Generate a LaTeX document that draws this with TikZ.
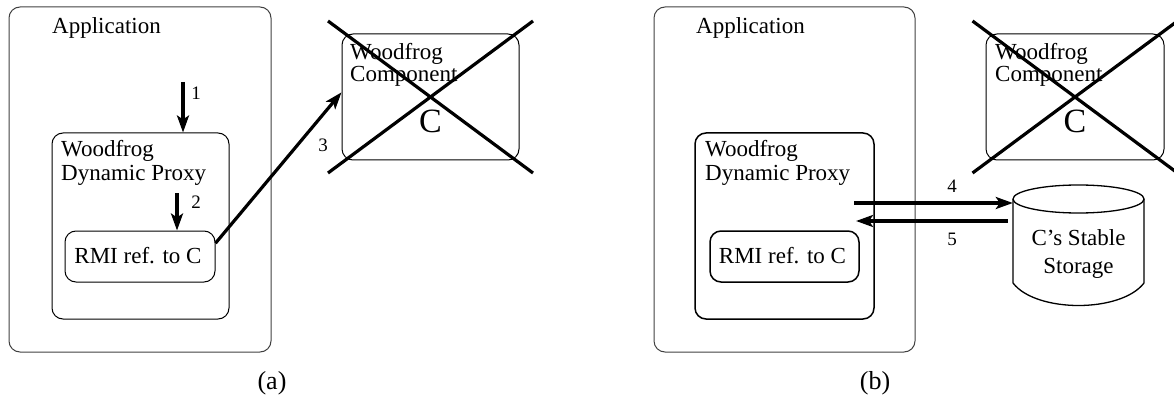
\documentclass[tikz,border=0pt]{standalone}
\usepackage{fontspec}
\setmainfont{Liberation Serif}
\usetikzlibrary{arrows.meta}
\tikzset{
  every node/.style={font=\fontsize{23}{23}\selectfont, inner sep=0pt},
  box/.style={draw, rounded corners=11pt, line width=1pt},
  outerbox/.style={box, draw=black!75},
  boldbox/.style={box, line width=1.5pt},
  numlbl/.style={font=\fontsize{19}{19}\selectfont, anchor=base},
  caption/.style={font=\fontsize{26}{26}\selectfont, anchor=base},
  bigc/.style={font=\fontsize{34}{34}\selectfont, anchor=base},
  arr/.style={line width=3.2pt, -{Stealth[length=17pt, width=12pt, inset=4pt]}},
  cross/.style={line width=3.2pt},
  txt/.style={anchor=base west},
}
\begin{document}
\begin{tikzpicture}[x=1pt, y=-1pt]
\useasboundingbox (0,0) rectangle (1174,398);
\clip (0,0) rectangle (1174,398);

% ---------------- (a) ----------------
\node[outerbox, minimum width=262pt, minimum height=345pt] (appA) at (140,179.5) {};
\node[txt] (appAt) at (52,34) {Application};

\node[box, minimum width=177pt, minimum height=186pt] (proxyA) at (140.5,226) {};
\node[txt] (proxyAt1) at (61,157) {Woodfrog};
\node[txt] (proxyAt2) at (61,180) {Dynamic Proxy};

\node[box, minimum width=150pt, minimum height=51pt] (rmiA) at (140,256.5) {};
\node[anchor=base] (rmiAt) at (138,263) {RMI ref. to C};

\node[box, minimum width=177pt, minimum height=126pt] (compA) at (430.5,97) {};
\node[txt] (compAt1) at (350,60) {Woodfrog};
\node[txt] (compAt2) at (350,82) {Component};
\node[bigc] (compAc) at (430.5,133) {C};
\draw[cross] ([shift={(-102.5,-76)}]compA.center) -- ([shift={(102.5,76)}]compA.center);
\draw[cross] ([shift={(-102.5,76)}]compA.center) -- ([shift={(102.5,-76)}]compA.center);

\coordinate (a1s) at (183,82);
\draw[arr] (a1s) -- (a1s |- proxyA.north);
\node[numlbl] (n1) at (196,100) {1};

\coordinate (a2s) at (177,193);
\draw[arr] (a2s) -- (a2s |- rmiA.north);
\node[numlbl] (n2) at (196,208) {2};

\draw[arr] (rmiA.10) -- (compA.177);
\node[numlbl] (n3) at (323,152) {3};

\node[caption] (capA) at (272,389) {(a)};

% ---------------- (b) ----------------
\node[outerbox, minimum width=261pt, minimum height=345pt] (appB) at (784.5,179.5) {};
\node[txt] (appBt) at (696,34) {Application};

\node[boldbox, minimum width=179pt, minimum height=186pt] (proxyB) at (784.5,226) {};
\node[txt] (proxyBt1) at (705,157) {Woodfrog};
\node[txt] (proxyBt2) at (705,180) {Dynamic Proxy};

\node[boldbox, minimum width=149pt, minimum height=51pt] (rmiB) at (784.5,256.5) {};
\node[anchor=base] (rmiBt) at (782.5,263) {RMI ref. to C};

\node[box, minimum width=178pt, minimum height=126pt] (compB) at (1075,97) {};
\node[txt] (compBt1) at (995,60) {Woodfrog};
\node[txt] (compBt2) at (995,82) {Component};
\node[bigc] (compBc) at (1075,133) {C};
\draw[cross] ([shift={(-102.5,-76)}]compB.center) -- ([shift={(102.5,76)}]compB.center);
\draw[cross] ([shift={(-102.5,76)}]compB.center) -- ([shift={(102.5,-76)}]compB.center);

% stable storage drum
\node[minimum width=131pt, minimum height=121pt] (cyl) at (1078.5,245.5) {};
\draw[line width=1.3pt]
  (1013,199) -- (1013,283) .. controls (1036,313) and (1121,313) .. (1144,283) -- (1144,199);
\draw[line width=1.3pt] (1078.5,199) ellipse [x radius=65.5, y radius=14];
\node[anchor=base] (cylt1) at (1078.5,245) {C’s Stable};
\node[anchor=base] (cylt2) at (1078.5,273) {Storage};

\coordinate (a4s) at (854,203);
\draw[arr] (a4s) -- (a4s -| cyl.west);
\node[numlbl] (n4) at (952,193) {4};

\coordinate (a5e) at (856,221);
\draw[arr] ([xshift=-5pt]a5e -| cyl.west) -- (a5e);
\node[numlbl] (n5) at (952,245) {5};

\node[caption] (capB) at (875,389) {(b)};
\end{tikzpicture}
\end{document}
